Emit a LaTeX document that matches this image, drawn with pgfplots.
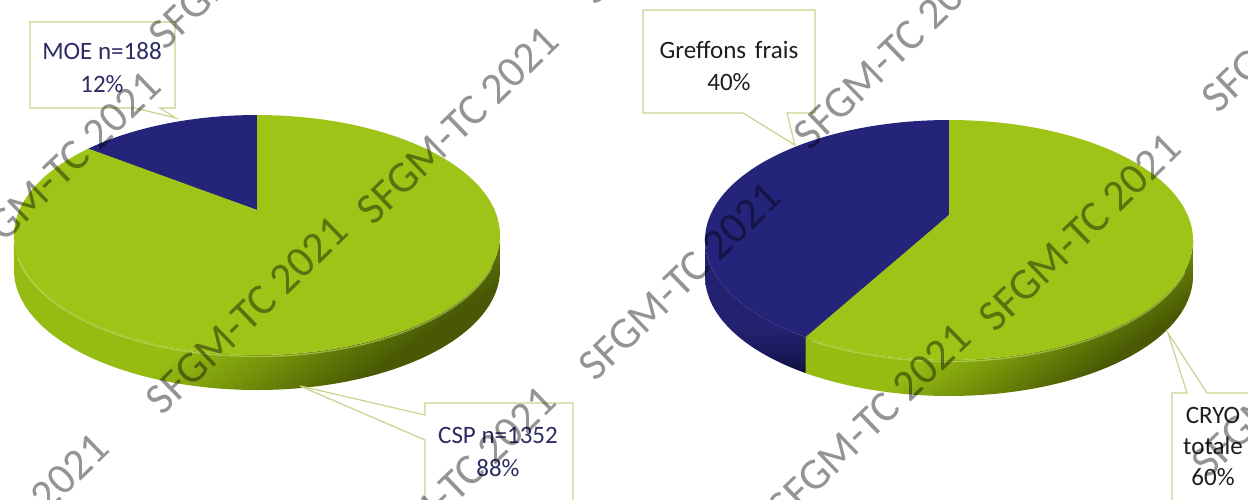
\documentclass[border=0pt]{standalone}
\usepackage{pgfplots}
\pgfplotsset{compat=1.18}
\usepackage{pgfplotstable}
\usepackage{fontspec}
\setmainfont{Carlito}

\definecolor{topG}{RGB}{158,196,24}
\definecolor{topN}{RGB}{36,36,122}
\definecolor{gL}{RGB}{150,188,20}
\definecolor{gM}{RGB}{118,146,10}
\definecolor{gD}{RGB}{72,88,4}
\definecolor{nL}{RGB}{34,34,112}
\definecolor{nM}{RGB}{27,27,92}
\definecolor{nD}{RGB}{16,16,62}
\definecolor{boxc}{RGB}{200,212,140}
\definecolor{lblN}{RGB}{45,45,100}
\definecolor{lblK}{RGB}{30,30,30}
\definecolor{hl}{RGB}{200,225,110}

\pgfdeclareverticalshading{sideG}{100bp}{color(0bp)=(gD); color(30bp)=(gD); color(42bp)=(gM); color(52bp)=(gL); color(100bp)=(gL)}
\pgfdeclareverticalshading{sideN}{100bp}{color(0bp)=(nD); color(25bp)=(nD); color(33bp)=(nM); color(42bp)=(nL); color(100bp)=(nL)}

% data
\pgfplotstableread{
label value
MOE 188
CSP 1352
}\tabA
\pgfplotstableread{
label value
Greffons 40
CRYO 60
}\tabB

\pgfplotstablegetelem{0}{value}\of\tabA \let\Aa\pgfplotsretval
\pgfplotstablegetelem{1}{value}\of\tabA \let\Ab\pgfplotsretval
\pgfplotstablegetelem{0}{value}\of\tabB \let\Ba\pgfplotsretval
\pgfplotstablegetelem{1}{value}\of\tabB \let\Bb\pgfplotsretval
\pgfmathsetmacro\Aang{90+360*(\Aa/(\Aa+\Ab))}
\pgfmathsetmacro\Bang{90+360*(\Ba/(\Ba+\Bb))}
\pgfmathsetmacro\Aangp{\Aang+0.6}
\pgfmathsetmacro\Bangp{\Bang+0.6}

% top slice: cx cy ay rx ry t1 t2 color
\newcommand\topslice[8]{%
  \edef\tmp{\noexpand\addplot[draw=none, fill=#8, domain=#6:#7, samples=120]
    ({#1+#4*cos(x)},{#2-#5*sin(x)}) -- (axis cs:#1,#3) -- cycle;}\tmp}
% side slice: cx cy rx ry th t1 t2 shading-options
\newcommand\sideslice[8]{%
  \pgfmathsetmacro\fa{max(#6,180)}\pgfmathsetmacro\fb{min(#7,360)}%
  \pgfmathsetmacro\fd{\fb-\fa}%
  \ifdim\fd pt>0.01pt
  \edef\tmp{\noexpand\addplot[draw=none, shade, #8, domain=0:2, samples=201]
    ({#1+#3*cos(\fa+\fd*min(x,2-x))},{#2-#4*sin(\fa+\fd*min(x,2-x))+#5*(x>1)});}\tmp
  \fi}
\newcommand\wm[2]{\node[rotate=44, text=black, text opacity=0.42, font=\fontsize{44}{44}\selectfont] at (axis cs:#1,#2) {SFGM-TC 2021};}

\begin{document}
\begin{tikzpicture}
\begin{axis}[scale only axis, width=1248pt, height=499pt,
  xmin=0, xmax=1248, ymin=0, ymax=499, y dir=reverse,
  hide axis, clip=false]

% ---- left pie
\sideslice{257}{235}{243}{120}{35}{90}{\Aangp}{shading=sideN}
\sideslice{257}{235}{243}{120}{35}{\Aang}{450}{shading=sideG, shading angle=35}
\topslice{257}{235}{210}{243}{120}{90}{\Aangp}{topN}
\topslice{257}{235}{210}{243}{120}{\Aang}{450}{topG}
\addplot[draw=hl, line width=1.3pt, opacity=0.55, domain=190:345, samples=80]
  ({257+243*cos(x)},{236.5-120*sin(x)});

% ---- right pie
\sideslice{949}{240}{244}{120}{36}{90}{\Bangp}{shading=sideN}
\sideslice{949}{240}{244}{120}{36}{\Bang}{450}{shading=sideG, shading angle=35}
\topslice{949}{240}{215}{244}{120}{90}{\Bangp}{topN}
\topslice{949}{240}{215}{244}{120}{\Bang}{450}{topG}
\addplot[draw=hl, line width=1.3pt, opacity=0.55, domain=236:345, samples=60]
  ({949+244*cos(x)},{241.5-120*sin(x)});

% ---- callouts
\draw[fill=white, draw=boxc, line width=1.2pt]
  (axis cs:30,22) -- (axis cs:175,22) -- (axis cs:175,108) -- (axis cs:160,108)
  -- (axis cs:176,118) -- (axis cs:135,108) -- (axis cs:30,108) -- cycle;
\draw[fill=white, draw=boxc, line width=1.2pt]
  (axis cs:425,403) -- (axis cs:573,403) -- (axis cs:573,520) -- (axis cs:425,520)
  -- (axis cs:425,440) -- (axis cs:300,386) -- (axis cs:425,415) -- cycle;
\draw[fill=white, draw=boxc, line width=1.2pt]
  (axis cs:643,10) -- (axis cs:815,10) -- (axis cs:815,113) -- (axis cs:787,113)
  -- (axis cs:795,145) -- (axis cs:743,113) -- (axis cs:643,113) -- cycle;
\draw[fill=white, draw=boxc, line width=1.2pt]
  (axis cs:1172,393) -- (axis cs:1187,393) -- (axis cs:1168,333) -- (axis cs:1207,393)
  -- (axis cs:1270,393) -- (axis cs:1270,520) -- (axis cs:1172,520) -- cycle;

\node[align=center, text=lblN, font=\fontsize{25}{33}\selectfont] at (axis cs:102,68) {MOE n=188\\12\%};
\node[align=center, text=lblN, font=\fontsize{25}{33}\selectfont] at (axis cs:498,452) {CSP n=1352\\88\%};
\node[align=center, text=lblK, font=\fontsize{25}{32}\selectfont] at (axis cs:729,66) {Greffons\hspace{0.35em}frais\\40\%};
\node[align=center, text=lblK, font=\fontsize{25}{31}\selectfont] at (axis cs:1213,446) {CRYO\\totale\\60\%};

% ---- watermarks
\wm{247}{315}
\wm{458}{125}
\wm{1080}{232}
\wm{895}{50}
\wm{680}{281}
\wm{870}{422}
\wm{60}{170}
\wm{250}{-50}
\wm{8}{532}
\wm{455}{485}
\wm{1303}{13}
\wm{1293}{378}
\wm{680}{-95}
\end{axis}
\pgfresetboundingbox
\useasboundingbox (0,0) rectangle (1248pt,499pt);
\end{tikzpicture}
\end{document}
